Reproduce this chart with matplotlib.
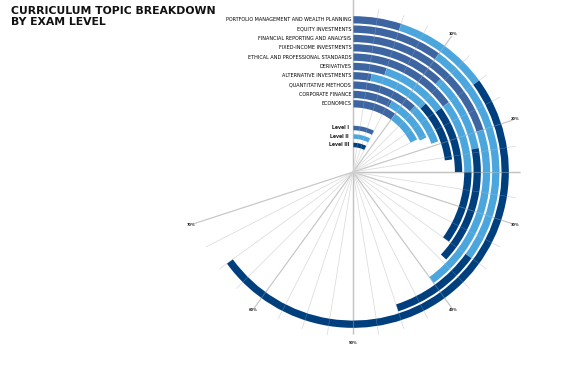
import numpy as np
import matplotlib
matplotlib.use("Agg")
import matplotlib.pyplot as plt

# ---------------- data (percent of exam) ----------------
topics = ["PORTFOLIO MANAGEMENT AND WEALTH PLANNING", "EQUITY INVESTMENTS",
          "FINANCIAL REPORTING AND ANALYSIS", "FIXED-INCOME INVESTMENTS",
          "ETHICAL AND PROFESSIONAL STANDARDS", "DERIVATIVES",
          "ALTERNATIVE INVESTMENTS", "QUANTITATIVE METHODS",
          "CORPORATE FINANCE", "ECONOMICS"]
level1 = [5, 10, 20, 12, 15, 5, 3, 12, 8, 10]
level2 = [10, 25, 20, 10, 10, 10, 10, 7.5, 10, 7.5]
level3 = [50, 10, 0, 15, 10, 10, 10, 0, 0, 0]
levels = ["Level I", "Level II", "Level III"]
legend_pct = [7.5, 7.5, 7.5]
pct_ticks = [10, 20, 30, 40, 50, 60, 70]
minor_step = 2.5

colors = ["#3c65a2", "#4ba6de", "#003f7e"]

W, H = 575, 367
fig = plt.figure(figsize=(W / 100, H / 100), dpi=100)
cx, cy = 353, 172
R = 180
ax = fig.add_axes([(cx - R) / W, (H - cy - R) / H, 2 * R / W, 2 * R / H],
                  projection="polar")
ax.set_theta_zero_location("N")
ax.set_theta_direction(-1)
ax.set_ylim(0, R)
ax.axis("off")


def th(p):
    return np.asarray(p, dtype=float) / 100.0 * 2 * np.pi


# rings
ring_c0, ring_step, ring_w = 152.2, 9.33, 7.3
for k, name in enumerate(topics):
    rc = ring_c0 - ring_step * k
    start = 0.0
    for val, col in zip([level1[k], level2[k], level3[k]], colors):
        if val > 0:
            ax.bar(th(start), ring_w, width=th(val), bottom=rc - ring_w / 2,
                   align="edge", color=col, linewidth=0, zorder=2)
        start += val
    ax.annotate(name, xy=(0, rc), xytext=(-1.3, 0), textcoords="offset points",
                ha="right", va="center", fontsize=3.5,
                color="#000000", zorder=5)

# legend rings
leg_c = [44, 35.5, 27]
leg_w = 4.5
for lab, rc, val, col in zip(levels, leg_c, legend_pct, colors):
    ax.bar(0, leg_w, width=th(val), bottom=rc - leg_w / 2, align="edge",
           color=col, linewidth=0, zorder=2)
    ax.annotate(lab, xy=(0, rc), xytext=(-3, 0), textcoords="offset points",
                ha="right", va="center", fontsize=3.3, fontweight="bold",
                color="#1a1a1a", zorder=5)

# grid lines: drawn under the bars, plus a faint overlay on top
for p in np.arange(0, 70 + 0.01, minor_step):
    if p in (0, 25, 50):
        rr, c, lw = (175 if p == 0 else (167 if p == 25 else 162)), "#bdbdbd", 1.0
    elif p % 10 == 0:
        rr, c, lw = 168, "#c4c4c4", 0.8
    else:
        rr, c, lw = 165, "#e2e2e2", 0.5
    ax.plot([th(p), th(p)], [0, rr], color=c, lw=lw, zorder=1,
            solid_capstyle="butt")
    ax.plot([th(p), th(p)], [0, rr], color="#d0d0d0", lw=lw * 0.8, alpha=0.35,
            zorder=3, solid_capstyle="butt")

# percent labels
for p in pct_ticks:
    ax.text(th(p), 170.5, f"{p}%", fontsize=2.6, fontweight="bold",
            ha="center", va="center", color="#222222", zorder=5)

fig.text(11 / W, 1 - 6 / H, "CURRICULUM TOPIC BREAKDOWN\nBY EXAM LEVEL",
         fontsize=7.8, fontweight="bold", ha="left", va="top",
         color="#111111", linespacing=1.1)

fig.savefig("out.png", dpi=100)
